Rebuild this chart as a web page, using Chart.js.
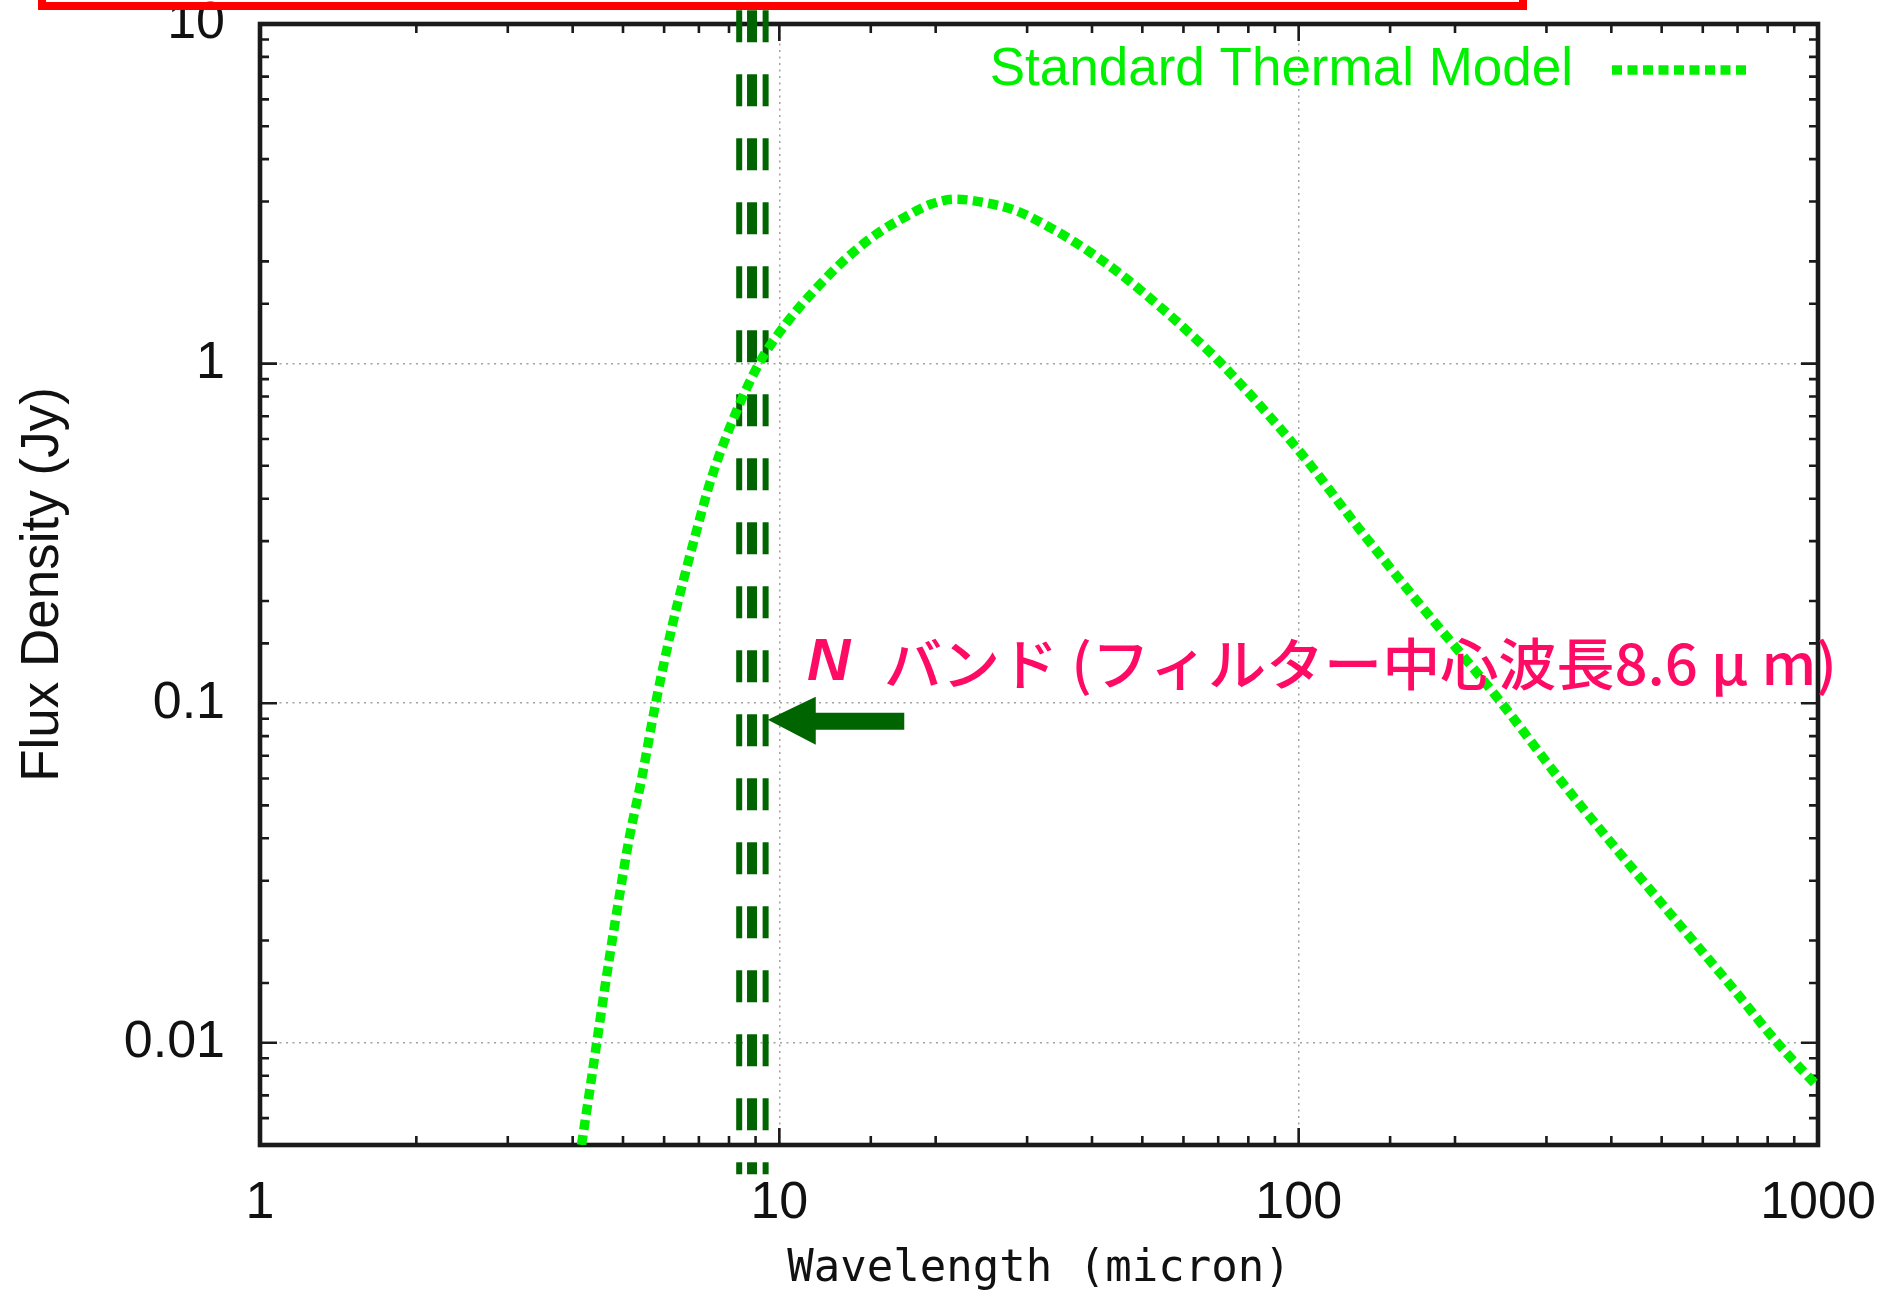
<!DOCTYPE html>
<html>
<head>
<meta charset="utf-8">
<title>Standard Thermal Model</title>
<script src="https://cdn.jsdelivr.net/npm/chart.js@4.4.1/dist/chart.umd.min.js"></script>
<style>
  html, body { margin: 0; padding: 0; background: #fff; }
  #wrap { width: 1883px; height: 1297px; }
</style>
</head>
<body>
<div id="wrap"><canvas id="sed" width="1883" height="1297"></canvas></div>
<script>
// STM curve (micron, Jy)
var wavelength = [4.16, 4.34, 4.45, 4.70, 4.90, 5.14, 5.42, 5.78, 6.23, 6.57, 6.85, 7.38, 8.13, 9.14,
	10.3, 11.8, 13.5, 15.4, 17.6, 19.6, 21.8, 24.2, 28.4, 33.3, 39.1, 45.9, 53.8, 63.1, 72.1,
	101, 130, 169, 246, 320, 396, 517, 675, 835, 1000];
var fluxSTM = [0.0050, 0.0077, 0.0100, 0.0175, 0.026, 0.040, 0.059, 0.100, 0.171, 0.237, 0.302, 0.454, 0.68, 1.00,
	1.31, 1.67, 2.05, 2.41, 2.72, 2.95, 3.05, 3.00, 2.83, 2.51, 2.16, 1.81, 1.48, 1.19, 0.975,
	0.545, 0.33, 0.20, 0.10, 0.059, 0.0395, 0.0242, 0.0149, 0.0100, 0.0074];

// N band filter (dark green dashed verticals)
var bandLines = [8.37, 8.86, 9.41];
var bandWidths = [6, 10, 6];
var bandRange = [0.0041, 12];

var xTickValues = [1, 10, 100, 1000];
var xTickLabels = ['1', '10', '100', '1000'];
var yTickValues = [0.01, 0.1, 1, 10];
var yTickLabels = ['0.01', '0.1', '1', '10'];

var seriesLabel = 'Standard Thermal Model';
var xTitle = 'Wavelength (micron)';
var yTitle = 'Flux Density (Jy)';

var noteLetter = 'N';
var noteText = 'バンド (フィルター中心波長8.6 μ m)';
var noteAt = [11.3, 0.1306];
var arrowTip = [9.5, 0.0894];
var arrowTail = [17.4, 0.0894];

var curveColor = '#00f000';
var bandColor = '#006400';
var noteColor = '#ff0a64';
var curveDash = [10, 5.5];

function isMajor(v) {
	var l = Math.log10(v);
	return Math.abs(l - Math.round(l)) < 1e-6;
}
function pickLabel(values, labels, v) {
	for (var i = 0; i < values.length; i++) {
		if (Math.abs(Math.log10(values[i]) - Math.log10(v)) < 1e-6) return labels[i];
	}
	return '';
}
function gridColor(c) {
	return c.tick && isMajor(c.tick.value) ? 'rgba(150,150,150,0.9)' : 'rgba(0,0,0,0)';
}

var datasets = [{
	label: seriesLabel,
	data: wavelength.map(function(w, i) { return { x: w, y: fluxSTM[i] }; }),
	showLine: true,
	borderColor: curveColor,
	borderWidth: 9.5,
	borderDash: curveDash,
	borderCapStyle: 'butt',
	cubicInterpolationMode: 'monotone',
	pointRadius: 0,
	clip: 0
}];
bandLines.forEach(function(w, i) {
	datasets.push({
		label: 'band' + i,
		data: [{ x: w, y: bandRange[0] }, { x: w, y: bandRange[1] }],
		showLine: true,
		borderColor: bandColor,
		borderWidth: bandWidths[i],
		borderDash: [32, 32],
		borderDashOffset: 20,
		borderCapStyle: 'butt',
		pointRadius: 0,
		clip: false
	});
});

// frame with inward ticks on all four sides (drawn under the data)
var framePlugin = {
	id: 'frame',
	beforeDatasetsDraw: function(chart) {
		var ctx = chart.ctx, a = chart.chartArea, xs = chart.scales.x, ys = chart.scales.y;
		ctx.save();
		ctx.strokeStyle = '#1a1a1a';
		ctx.lineWidth = 2.6;
		ctx.beginPath();
		xs.ticks.forEach(function(t) {
			var p = xs.getPixelForValue(t.value);
			var len = isMajor(t.value) ? 17 : 9;
			ctx.moveTo(p, a.bottom); ctx.lineTo(p, a.bottom - len);
			ctx.moveTo(p, a.top); ctx.lineTo(p, a.top + len);
		});
		ys.ticks.forEach(function(t) {
			var p = ys.getPixelForValue(t.value);
			var len = isMajor(t.value) ? 17 : 9;
			ctx.moveTo(a.left, p); ctx.lineTo(a.left + len, p);
			ctx.moveTo(a.right, p); ctx.lineTo(a.right - len, p);
		});
		ctx.stroke();
		ctx.lineWidth = 4.6;
		ctx.strokeRect(a.left, a.top, a.right - a.left, a.bottom - a.top);
		ctx.restore();
	}
};

// legend, arrow, note and the red box at the top
var notesPlugin = {
	id: 'notes',
	afterDraw: function(chart) {
		var ctx = chart.ctx, a = chart.chartArea, xs = chart.scales.x, ys = chart.scales.y;
		ctx.save();

		// legend (gnuplot style: text then sample)
		var ly = a.top + 46;
		ctx.font = '53px "Liberation Sans", Arial, sans-serif';
		ctx.fillStyle = curveColor;
		ctx.textAlign = 'right';
		ctx.textBaseline = 'middle';
		ctx.fillText(seriesLabel, a.right - 245, ly);
		ctx.strokeStyle = curveColor;
		ctx.lineWidth = 9.5;
		ctx.setLineDash(curveDash);
		ctx.beginPath();
		ctx.moveTo(a.right - 206, ly);
		ctx.lineTo(a.right - 68, ly);
		ctx.stroke();
		ctx.setLineDash([]);

		// arrow
		var tx = xs.getPixelForValue(arrowTip[0]), ty = ys.getPixelForValue(arrowTip[1]);
		var ex = xs.getPixelForValue(arrowTail[0]);
		ctx.fillStyle = bandColor;
		ctx.beginPath();
		ctx.moveTo(tx, ty);
		ctx.lineTo(tx + 48, ty - 23);
		ctx.lineTo(tx + 48, ty - 7);
		ctx.lineTo(ex, ty - 7);
		ctx.lineTo(ex, ty + 10);
		ctx.lineTo(tx + 48, ty + 10);
		ctx.lineTo(tx + 48, ty + 25);
		ctx.closePath();
		ctx.fill();

		// note
		var nx = xs.getPixelForValue(noteAt[0]), ny = ys.getPixelForValue(noteAt[1]);
		ctx.fillStyle = noteColor;
		ctx.textAlign = 'left';
		ctx.font = 'italic bold 60px "Liberation Sans", Arial, sans-serif';
		ctx.fillText(noteLetter, nx, ny);
		ctx.font = '500 56px "Noto Sans CJK JP", sans-serif';
		var w = ctx.measureText(noteText).width;
		var s = 953 / w;
		ctx.translate(nx + 77, ny);
		ctx.scale(s, 1);
		ctx.fillText(noteText, 0, 0);
		ctx.setTransform(1, 0, 0, 1, 0, 0);

		// red box edge at the top
		ctx.strokeStyle = '#ff0000';
		ctx.lineWidth = 8;
		ctx.strokeRect(42, -60, 1481, 66);
		ctx.restore();
	}
};

Chart.defaults.font.family = '"Liberation Sans", Arial, sans-serif';
Chart.defaults.color = '#111';

new Chart(document.getElementById('sed'), {
	type: 'scatter',
	data: { datasets: datasets },
	options: {
		responsive: false,
		animation: false,
		events: [],
		layout: { padding: { top: 24, right: 65, left: 0, bottom: 0 } },
		plugins: {
			legend: { display: false },
			tooltip: { enabled: false }
		},
		scales: {
			x: {
				type: 'logarithmic',
				min: 1,
				max: 1000,
				afterFit: function(s) { s.height = 152; s.paddingLeft = 0; s.paddingRight = 0; },
				grid: { color: gridColor, lineWidth: 1.5, drawTicks: false },
				border: { display: false, dash: [2, 4.5] },
				ticks: {
					autoSkip: false, maxRotation: 0, minRotation: 0, padding: 27,
					font: { size: 52 }, color: '#111',
					callback: function(v) { return pickLabel(xTickValues, xTickLabels, v); }
				},
				title: {
					display: true, text: xTitle, color: '#111',
					font: { family: '"DejaVu Sans Mono", monospace', size: 44 },
					padding: { top: 0, bottom: 1 }
				}
			},
			y: {
				type: 'logarithmic',
				min: 0.005,
				max: 10,
				afterFit: function(s) { s.width = 260; s.paddingTop = 0; s.paddingBottom = 0; },
				grid: { color: gridColor, lineWidth: 1.5, drawTicks: false },
				border: { display: false, dash: [2, 4.5] },
				ticks: {
					autoSkip: false, padding: 35,
					font: { size: 52 }, color: '#111',
					callback: function(v) { return pickLabel(yTickValues, yTickLabels, v); }
				},
				title: {
					display: true, text: yTitle, color: '#111',
					font: { size: 53 },
					padding: { top: 12, bottom: 0 }
				}
			}
		}
	},
	plugins: [framePlugin, notesPlugin]
});
</script>
</body>
</html>
